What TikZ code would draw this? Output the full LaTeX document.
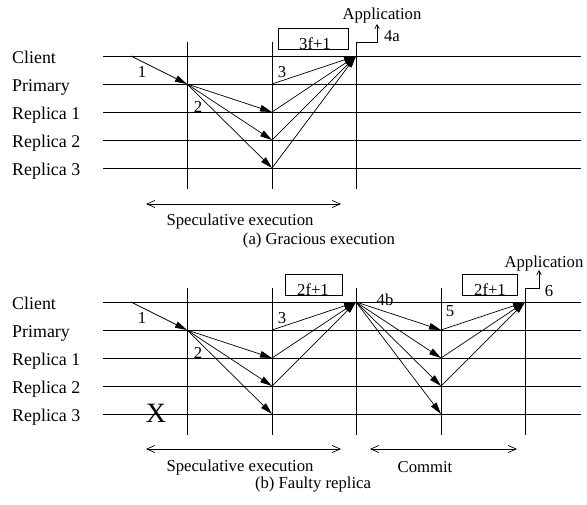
\documentclass[tikz,border=0pt]{standalone}
\usepackage{fontspec}
\setmainfont{Liberation Serif}
\usepackage{tikz}
\usetikzlibrary{arrows.meta,positioning,calc}

\begin{document}
\begin{tikzpicture}[x=1pt,y=-1pt,
    lane/.style={line width=0.7pt},
    msg/.style={line width=0.7pt,-{Triangle[length=12pt,width=6.5pt]}},
    span/.style={line width=0.7pt,{Straight Barb[length=8pt,width=7pt]}-{Straight Barb[length=8pt,width=7pt]}},
    upout/.style={line width=0.7pt,-{Straight Barb[length=4pt,width=4.5pt]}},
    quorum/.style={draw,line width=0.7pt,minimum height=21pt,inner sep=0pt},
    role/.style={font=\fontsize{17.9}{20}\selectfont,inner sep=0pt,anchor=base west},
    lbl/.style={font=\fontsize{16.7}{19}\selectfont,inner sep=0pt}
]
\useasboundingbox (0,0) rectangle (587,504);

% lanes of both runs
\foreach \f/\dy in {a/0,b/246}{
  \foreach \n/\l/\y in {0/Client/56,1/Primary/84,2/Replica 1/112,3/Replica 2/140,4/Replica 3/168}{
    \node[role] (\f-name\n) at (12,\y+\dy+7) {\l};
    \coordinate (\f-s\n) at (103,\y+\dy);
    \coordinate (\f-e\n) at (581,\y+\dy);
    \draw[lane] (\f-s\n) -- (\f-e\n);
  }
}

% (a) gracious execution
\foreach \x [count=\i] in {187,272,356}{
  \coordinate (a-t\i) at (\x,42);
  \coordinate (a-b\i) at (\x,189);
  \draw[lane] (a-t\i) -- (a-b\i);
}
\coordinate (a-req) at (131,56);
\draw[msg] (a-req) -- (a-t1 |- a-s1);
\foreach \r in {2,3,4}
  \draw[msg] (a-t1 |- a-s1) -- (a-t2 |- a-s\r);
\foreach \r in {1,2,3,4}
  \draw[msg] (a-t2 |- a-s\r) -- (a-t3 |- a-s0);
\node[lbl] (a-m1) at (142,72) {1};
\node[lbl] (a-m2) at (198,107) {2};
\node[lbl] (a-m3) at (282,72) {3};
\node[quorum,minimum width=70pt] (a-box) at (313,38.5) {};
\node[lbl,anchor=base] (a-boxtxt) at (315,49.5) {3f+1};
\node[lbl] (a-app) at (382,15) {Application};
\coordinate (a-appin) at (377,24);
\draw[upout] (a-t3) -| (a-appin);
\node[lbl] (a-m4) at (392,36) {4a};
\coordinate (a-sp1) at (146,204);
\coordinate (a-sp2) at (341,204);
\draw[span] (a-sp1) -- (a-sp2);
\node[lbl] (a-spec) at (240,221) {Speculative execution};
\node[lbl] (a-cap) at (319,240) {(a) Gracious execution};

% (b) faulty replica
\foreach \x [count=\i] in {187,272,356,441,525}{
  \coordinate (b-t\i) at (\x,288);
  \coordinate (b-b\i) at (\x,435);
  \draw[lane] (b-t\i) -- (b-b\i);
}
\coordinate (b-req) at (131,302);
\draw[msg] (b-req) -- (b-t1 |- b-s1);
\foreach \r in {2,3,4}
  \draw[msg] (b-t1 |- b-s1) -- (b-t2 |- b-s\r);
\foreach \r in {1,2,3}
  \draw[msg] (b-t2 |- b-s\r) -- (b-t3 |- b-s0);
\foreach \r in {1,2,3,4}
  \draw[msg] (b-t3 |- b-s0) -- (b-t4 |- b-s\r);
\foreach \r in {1,2,3}
  \draw[msg] (b-t4 |- b-s\r) -- (b-t5 |- b-s0);
\node[lbl] (b-m1) at (142,318) {1};
\node[lbl] (b-m2) at (198,353) {2};
\node[lbl] (b-m3) at (282,318) {3};
\node[lbl] (b-m4) at (385,300) {4b};
\node[lbl] (b-m5) at (450,311) {5};
\node[lbl] (b-m6) at (549,291) {6};
\node[font=\fontsize{28}{30}\selectfont,inner sep=0pt] (b-fail) at (156,413) {X};
\node[quorum,minimum width=57pt] (b-box1) at (313.5,284.5) {};
\node[lbl,anchor=base] (b-box1txt) at (313,295.5) {2f+1};
\node[quorum,minimum width=55pt] (b-box2) at (489.5,284.5) {};
\node[lbl,anchor=base] (b-box2txt) at (490,295.5) {2f+1};
\node[lbl] (b-app) at (544,263) {Application};
\coordinate (b-appin) at (539,270);
\draw[upout] (b-t5) -| (b-appin);
\coordinate (b-sp1) at (146,449);
\coordinate (b-sp2) at (341,449);
\draw[span] (b-sp1) -- (b-sp2);
\node[lbl] (b-spec) at (240,467) {Speculative execution};
\coordinate (b-cm1) at (370,449);
\coordinate (b-cm2) at (517,449);
\draw[span] (b-cm1) -- (b-cm2);
\node[lbl] (b-commit) at (425,467) {Commit};
\node[lbl] (b-cap) at (313,485) {(b) Faulty replica};
\end{tikzpicture}
\end{document}
